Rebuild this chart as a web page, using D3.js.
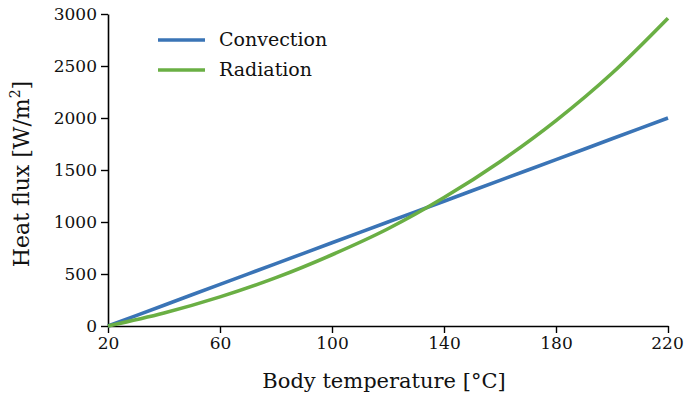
<!DOCTYPE html>
<html>
<head>
<meta charset="utf-8">
<script src="https://cdn.jsdelivr.net/npm/d3@7"></script>
<style>
  body { margin: 0; background: #fff; }
  svg text { font-family: "DejaVu Serif", "Liberation Serif", serif; fill: #111; }
</style>
</head>
<body>
<svg id="chart" width="684" height="398"></svg>
<script>
// data
const temps = [20, 40, 60, 80, 100, 120, 140, 160, 180, 200, 220];
const convection = [0, 200, 400, 600, 800, 1000, 1200, 1400, 1600, 1800, 2000];
const radiation = [0, 125, 280, 465, 685, 935, 1235, 1580, 1975, 2430, 2960];
const xTicks = [20, 60, 100, 140, 180, 220];
const yTicks = [0, 500, 1000, 1500, 2000, 2500, 3000];
const seriesNames = ['Convection', 'Radiation'];
const colors = ['#3a74b6', '#6aaf44'];

const width = 684;
const height = 398;
const margin = { top: 14, right: 16, bottom: 72, left: 108 };
const serif = '"DejaVu Serif", "Liberation Serif", serif';

const svg = d3.select('#chart');

const x = d3.scaleLinear().domain([20, 220]).range([margin.left, width - margin.right]);
const y = d3.scaleLinear().domain([0, 3000]).range([height - margin.bottom, margin.top]);

// axes
const xAxis = svg.append('g')
  .attr('transform', `translate(0,${height - margin.bottom})`)
  .call(d3.axisBottom(x).tickValues(xTicks).tickFormat(d3.format('d'))
    .tickSize(7).tickSizeOuter(0).tickPadding(4));
const yAxis = svg.append('g')
  .attr('transform', `translate(${margin.left},0)`)
  .call(d3.axisLeft(y).tickValues(yTicks).tickFormat(d3.format('d'))
    .tickSize(7).tickSizeOuter(0).tickPadding(4));

[xAxis, yAxis].forEach(g => {
  g.attr('font-family', serif);
  g.select('.domain').attr('stroke', '#000').attr('stroke-width', 1.6);
  g.selectAll('.tick line').attr('stroke', '#000').attr('stroke-width', 1.4);
  g.selectAll('.tick text')
    .style('font-size', '17px')
    .attr('fill', '#111');
});
// last x label sits at the right edge, pull it in a touch
xAxis.selectAll('.tick text').filter(d => d === 220).attr('dx', -1);

// lines
const line = d3.line()
  .x((d, i) => x(temps[i]))
  .y(d => y(d))
  .curve(d3.curveMonotoneX);

[convection, radiation].forEach((vals, i) => {
  svg.append('path')
    .datum(vals)
    .attr('fill', 'none')
    .attr('stroke', colors[i])
    .attr('stroke-width', 3.6)
    .attr('d', line);
});

// axis titles
svg.append('text')
  .attr('x', 384)
  .attr('y', 388)
  .attr('text-anchor', 'middle')
  .style('font-size', '21px')
  .text('Body temperature [°C]');

const yl = svg.append('text')
  .attr('transform', 'translate(29,174) rotate(-90)')
  .attr('text-anchor', 'middle')
  .style('font-size', '22px');
yl.append('tspan').text('Heat flux [W/m');
yl.append('tspan').attr('dy', -9).style('font-size', '14px').text('2');
yl.append('tspan').attr('dy', 9).text(']');

// legend
const legend = svg.append('g');
seriesNames.forEach((name, i) => {
  const ly = 40 + i * 30;
  legend.append('line')
    .attr('x1', 158).attr('x2', 205)
    .attr('y1', ly).attr('y2', ly)
    .attr('stroke', colors[i])
    .attr('stroke-width', 3.6);
  legend.append('text')
    .attr('x', 219)
    .attr('y', ly + 6)
    .style('font-size', '19px')
    .text(name);
});
</script>
</body>
</html>
